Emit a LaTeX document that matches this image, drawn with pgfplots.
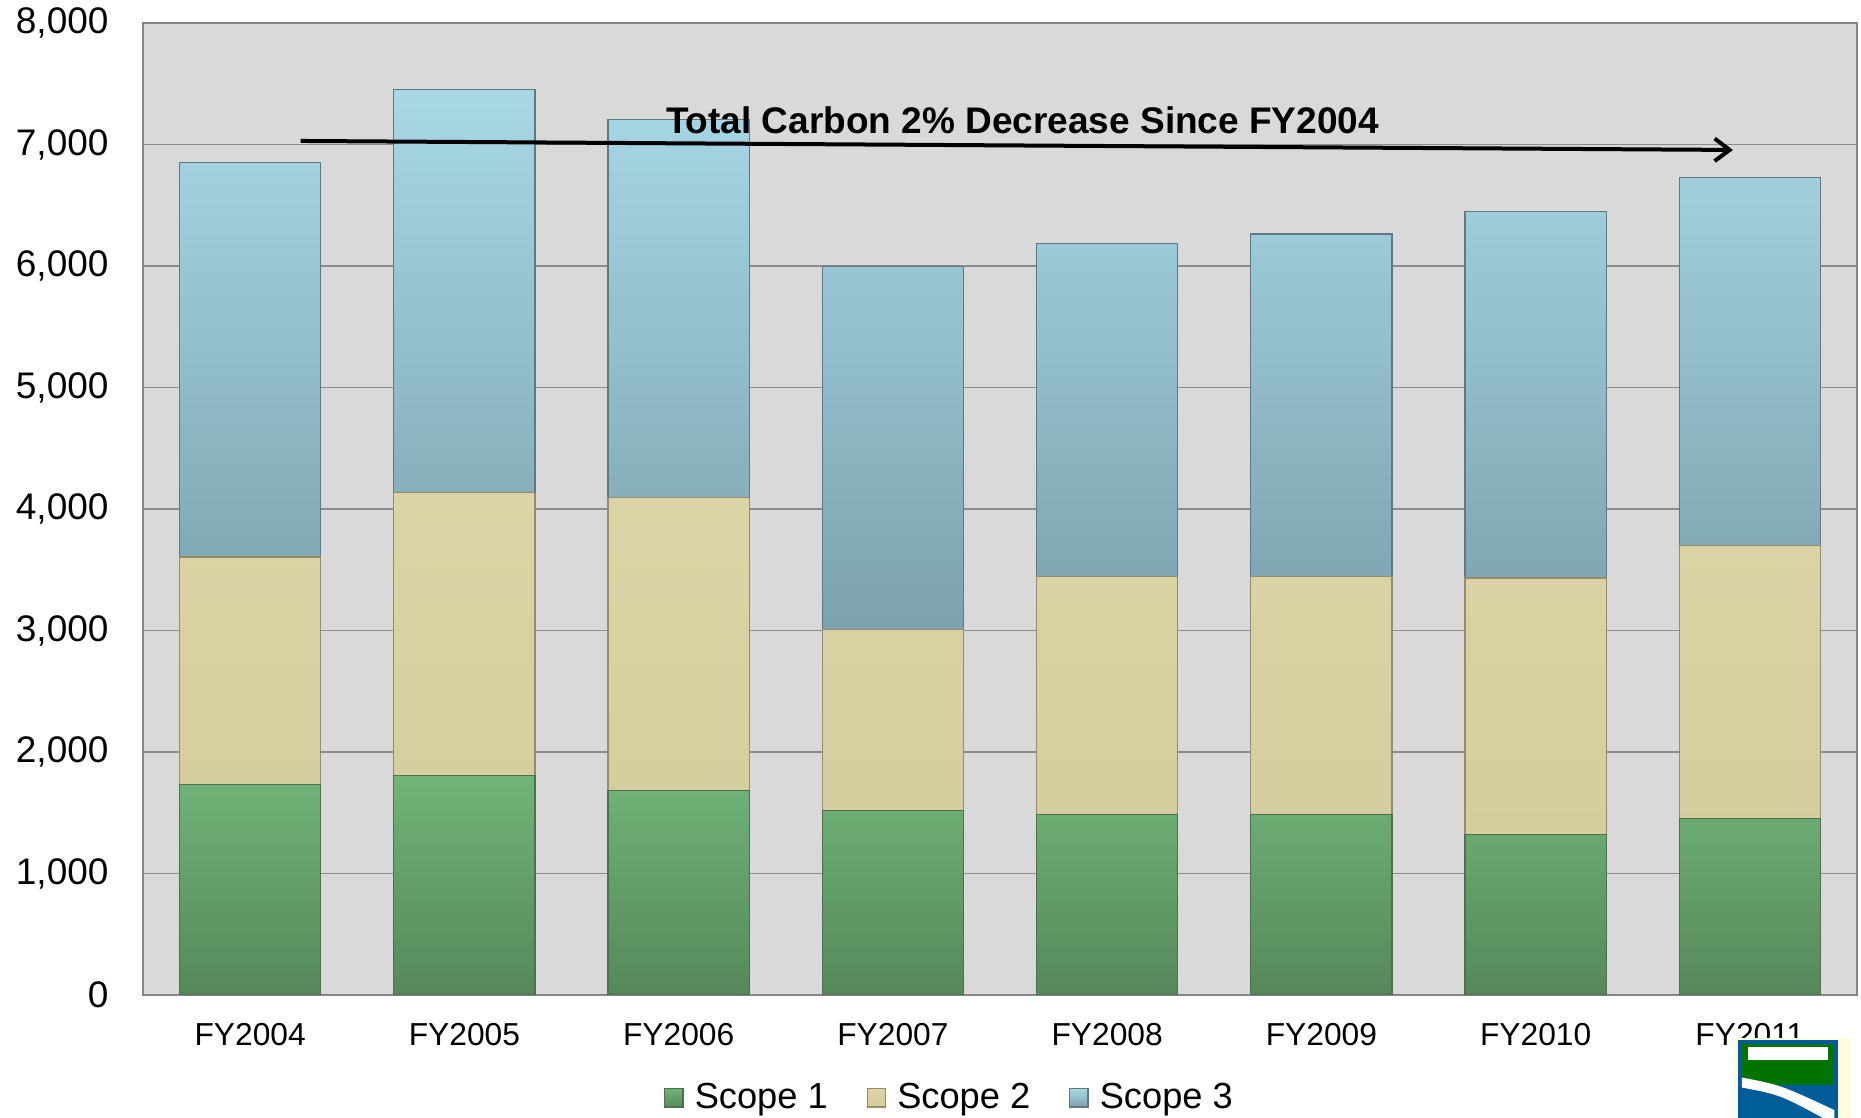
\documentclass[border=0pt]{standalone}
\usepackage{pgfplots}
\pgfplotsset{compat=1.18}
\usepackage{fontspec}
\setmainfont{Liberation Sans}
\usetikzlibrary{arrows.meta,calc}
\definecolor{bggray}{RGB}{217,217,217}
\definecolor{gridgray}{RGB}{140,140,140}
\definecolor{axisgray}{RGB}{134,134,134}
\definecolor{gtop}{RGB}{112,180,120}
\definecolor{gbot}{RGB}{86,136,90}
\definecolor{gedge}{RGB}{80,110,82}
\definecolor{ttop}{RGB}{220,212,166}
\definecolor{tbot}{RGB}{214,205,158}
\definecolor{tedge}{RGB}{150,140,105}
\definecolor{btop}{RGB}{168,216,230}
\definecolor{bbot}{RGB}{124,162,174}
\definecolor{bedge}{RGB}{95,120,130}
\pgfplotsset{sq legend/.style={legend image code/.code={\draw[##1] (0pt,-3.6pt) rectangle (7.3pt,3.7pt);}}}
\pgfplotstableread{
x s1 s2 s3
0 1730 1875 3245
1 1805 2330 3315
2 1680 2415 3110
3 1517 1493 2985
4 1488 1955 2742
5 1483 1960 2821
6 1318 2115 3015
7 1453 2244 3034
}\carbon
\begin{document}
\begin{tikzpicture}
\begin{axis}[name=ax, scale only axis, width=685.6pt, height=388.8pt,
  xmin=-0.5, xmax=7.5, ymin=0, ymax=8000,
  ybar stacked, bar width=0.66,
  xtick={0,...,7},
  xticklabels={FY2004,FY2005,FY2006,FY2007,FY2008,FY2009,FY2010,FY2011},
  ytick={0,1000,...,8000},
  major tick length=0pt,
  ymajorgrids, grid style={draw=gridgray, line width=0.6pt},
  axis background/.style={fill=bggray},
  axis line style={draw=axisgray, line width=0.8pt},
  yticklabel style={font=\fontsize{14.8}{16}\selectfont, inner sep=0pt, xshift=-13.6pt},
  xticklabel style={font=\fontsize{12.7}{14}\selectfont, inner sep=0pt, yshift=-11.2pt},
  /pgf/number format/1000 sep={,},
  /pgf/number format/assume math mode=true,
  legend style={at={(0.471,-0.106)}, anchor=center, draw=none, fill=none,
    font=\fontsize{14.5}{16}\selectfont, legend columns=3,
    nodes={inner sep=1.5pt},
    /tikz/every odd column/.append style={column sep=3pt},
    /tikz/every even column/.append style={column sep=14pt}},
  legend cell align=left,
]
\addplot[top color=gtop, bottom color=gbot, draw=gedge, line width=0.5pt, sq legend]
  table[x=x,y=s1]{\carbon};
\addplot[top color=ttop, bottom color=tbot, draw=tedge, line width=0.5pt, sq legend]
  table[x=x,y=s2]{\carbon};
\addplot[top color=btop, bottom color=bbot, draw=bedge, line width=0.5pt, sq legend]
  table[x=x,y=s3]{\carbon};
\legend{Scope 1, Scope 2, Scope 3}
\coordinate (arrA) at (axis cs:0.236,7029);
\coordinate (arrB) at (axis cs:6.921,6955);
\coordinate (ttl) at (axis cs:3.605,7090);
\end{axis}
\draw[line width=1.6pt, -{Straight Barb[length=6pt,width=9pt,line width=1.6pt]}]
  (arrA) -- (arrB);
\node[anchor=base, font=\bfseries\fontsize{14.8}{16}\selectfont, inner sep=0pt]
  at (ttl) {Total Carbon 2\% Decrease Since FY2004};
% small logo fragment at bottom right
\fill[yellow!15] ($(ax.south west)+(636.8pt,-17.2pt)$) rectangle ($(ax.south west)+(682.8pt,-49.2pt)$);
\fill[blue!40!cyan!60!black] ($(ax.south west)+(638pt,-18pt)$) rectangle ($(ax.south west)+(678pt,-49.2pt)$);
\fill[green!45!black] ($(ax.south west)+(639.5pt,-19.5pt)$) rectangle ($(ax.south west)+(676.5pt,-36pt)$);
\fill[white] ($(ax.south west)+(642pt,-21pt)$) rectangle ($(ax.south west)+(674pt,-26pt)$);
\fill[white] ($(ax.south west)+(639.5pt,-33pt)$) .. controls ($(ax.south west)+(655pt,-36pt)$) .. ($(ax.south west)+(676.5pt,-46pt)$) -- ($(ax.south west)+(676.5pt,-49.2pt)$) -- ($(ax.south west)+(672pt,-49.2pt)$) .. controls ($(ax.south west)+(655pt,-40pt)$) .. ($(ax.south west)+(639.5pt,-37pt)$) -- cycle;
\pgfresetboundingbox
\path ($(ax.south west)+(-57.2pt,-49.2pt)$) rectangle ($(ax.north east)+(1.6pt,9.2pt)$);
\end{tikzpicture}
\end{document}
